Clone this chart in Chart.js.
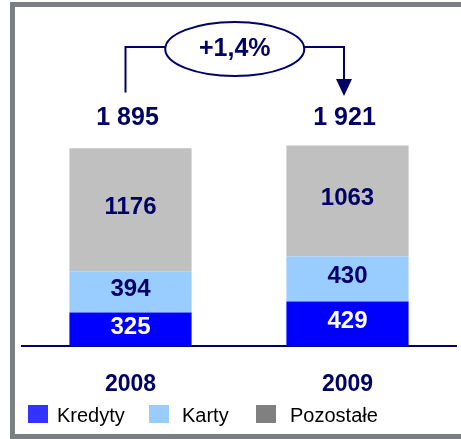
<!DOCTYPE html>
<html lang="pl">
<head>
<meta charset="UTF-8">
<title>Przychody 2008-2009</title>
<style>
  body { margin: 0; width: 461px; height: 439px; overflow: hidden; background: #fff; position: relative;
         font-family: 'Liberation Sans', Arial, sans-serif; }
  #frame { position: absolute; left: 10px; top: 2px; width: 470px; height: 427px; border: 5px solid #7b7f83; }
  #chart { position: absolute; left: 0; top: 0; }
  .box { position: absolute; top: 405px; width: 20px; height: 18px; }
  .lbl { position: absolute; top: 404px; font-size: 20px; line-height: 22px; color: #000; white-space: nowrap; }
</style>
</head>
<body>
<div id="frame"></div>
<canvas id="chart" width="461" height="439"></canvas>

<div class="box" style="left:28px; background:#3333ff"></div>
<div class="lbl" style="left:57px">Kredyty</div>
<div class="box" style="left:149px; background:#99ccff"></div>
<div class="lbl" style="left:182px">Karty</div>
<div class="box" style="left:256px; background:#808080"></div>
<div class="lbl" style="left:290px">Pozostałe</div>

<script src="https://cdn.jsdelivr.net/npm/chart.js"></script>
<script>
const years = ['2008', '2009'];
const kredyty = [325, 429];
const karty = [394, 430];
const pozostale = [1176, 1063];
// totals as printed above the bars (rounded in the source)
const totals = [1895, 1921];
const growth = '+1,4%';

const navy = '#000066';
const fontFamily = "'Liberation Sans', Arial, sans-serif";

function fmt(n) {
    return n.toString().replace(/\B(?=(\d{3})+(?!\d))/g, ' ');
}

// labels inside bars, totals and the growth arrow
const annotations = {
    id: 'annotations',
    afterDatasetsDraw(chart) {
        const ctx = chart.ctx;
        const yScale = chart.scales.y;
        ctx.save();
        ctx.textAlign = 'center';
        ctx.textBaseline = 'middle';

        ctx.font = 'bold 24px ' + fontFamily;
        chart.data.datasets.forEach((ds, i) => {
            chart.getDatasetMeta(i).data.forEach((bar, j) => {
                ctx.fillStyle = i === 0 ? '#ffffff' : navy;
                ctx.fillText(ds.data[j], bar.x, (bar.y + bar.base) / 2 - 2.5);
            });
        });

        const bars = chart.getDatasetMeta(0).data;
        const totY = yScale.getPixelForValue(Math.max(...totals)) - 27;
        ctx.font = 'bold 25px ' + fontFamily;
        ctx.fillStyle = navy;
        bars.forEach((bar, j) => ctx.fillText(fmt(totals[j]), bar.x - 3, totY));

        // arrow
        const x1 = bars[0].x - 5;
        const x2 = bars[1].x - 3.5;
        const lineY = 47;
        const cx = (x1 + x2) / 2, cy = 49, rx = 69.5, ry = 27;
        ctx.strokeStyle = navy;
        ctx.lineWidth = 2;
        ctx.beginPath();
        ctx.moveTo(x1, totY - 26);
        ctx.lineTo(x1, lineY);
        ctx.lineTo(cx - rx, lineY);
        ctx.moveTo(cx + rx, lineY);
        ctx.lineTo(x2, lineY);
        ctx.lineTo(x2, 80);
        ctx.stroke();
        ctx.beginPath();
        ctx.moveTo(x2 - 8, 79);
        ctx.lineTo(x2 + 8, 79);
        ctx.lineTo(x2, 96);
        ctx.closePath();
        ctx.fillStyle = navy;
        ctx.fill();

        ctx.beginPath();
        ctx.ellipse(cx, cy, rx, ry, 0, 0, Math.PI * 2);
        ctx.fillStyle = '#ffffff';
        ctx.fill();
        ctx.stroke();

        ctx.font = 'bold 25px ' + fontFamily;
        ctx.fillStyle = navy;
        ctx.fillText(growth, cx, cy);
        ctx.restore();
    }
};

new Chart(document.getElementById('chart').getContext('2d'), {
    type: 'bar',
    data: {
        labels: years,
        datasets: [
            { label: 'Kredyty', data: kredyty, backgroundColor: '#0000ff' },
            { label: 'Karty', data: karty, backgroundColor: '#99ccff' },
            { label: 'Pozostałe', data: pozostale, backgroundColor: '#c0c0c0' }
        ]
    },
    options: {
        responsive: false,
        animation: false,
        layout: { padding: { left: 22, right: 5, top: 85, bottom: 17 } },
        datasets: { bar: { barPercentage: 1, categoryPercentage: 0.563 } },
        plugins: { legend: { display: false }, tooltip: { enabled: false } },
        scales: {
            x: {
                stacked: true,
                grid: { display: false, drawTicks: false },
                border: { display: true, color: navy, width: 2 },
                ticks: { color: navy, padding: 24, font: { size: 23, weight: 'bold', family: fontFamily } }
            },
            y: { stacked: true, display: false, min: 0, max: 2500 }
        }
    },
    plugins: [annotations]
});
</script>
</body>
</html>
